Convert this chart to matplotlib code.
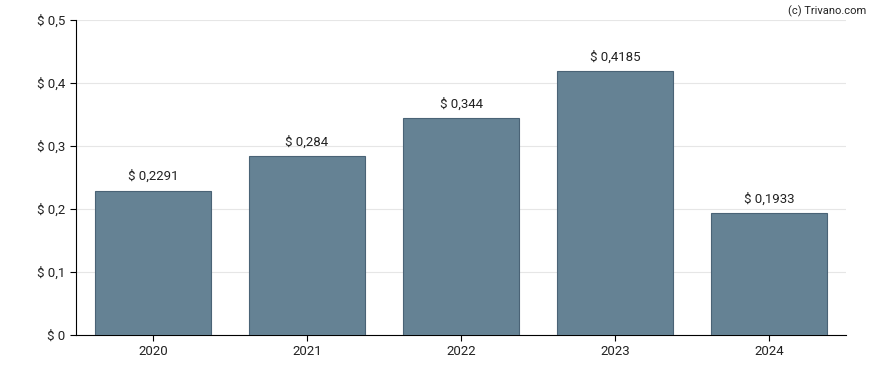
import matplotlib.pyplot as plt

years = ["2020", "2021", "2022", "2023", "2024"]
values = [0.2291, 0.284, 0.344, 0.4185, 0.1933]
labels = ["$ 0,2291", "$ 0,284", "$ 0,344", "$ 0,4185", "$ 0,1933"]
yticks = [0, 0.1, 0.2, 0.3, 0.4, 0.5]
ytick_labels = ["$ 0", "$ 0,1", "$ 0,2", "$ 0,3", "$ 0,4", "$ 0,5"]

plt.rcParams['font.family'] = ['Roboto', 'DejaVu Sans']

fig = plt.figure(figsize=(8.88, 3.70), dpi=100)
ax = fig.add_axes([0.0856, 0.0946, 0.8671, 0.8514])

x = range(len(years))
ax.bar(x, values, width=0.75, color="#658294", edgecolor="#4a6376", linewidth=0.8, zorder=3)

for xi, v, lab in zip(x, values, labels):
    ax.text(xi, v + 0.012, lab, ha="center", va="bottom", fontsize=9.5, color="#222222")

ax.set_xlim(-0.5, 4.5)
ax.set_ylim(0, 0.5)
ax.set_xticks(list(x))
ax.set_xticklabels(years, fontsize=9.5)
ax.set_yticks(yticks)
ax.set_yticklabels(ytick_labels, fontsize=9.5)
ax.yaxis.grid(True, color="#e6e6e6", linewidth=0.8, zorder=0)
ax.set_axisbelow(True)

for s in ["top", "right"]:
    ax.spines[s].set_visible(False)
ax.spines["left"].set_color("black")
ax.spines["bottom"].set_color("black")
ax.tick_params(axis="both", length=4, color="black", labelcolor="#222222")

fig.text(0.975, 0.985, "(c) Trivano.com", ha="right", va="top", fontsize=8, color="#222222")

fig.savefig("out.png", dpi=100)
